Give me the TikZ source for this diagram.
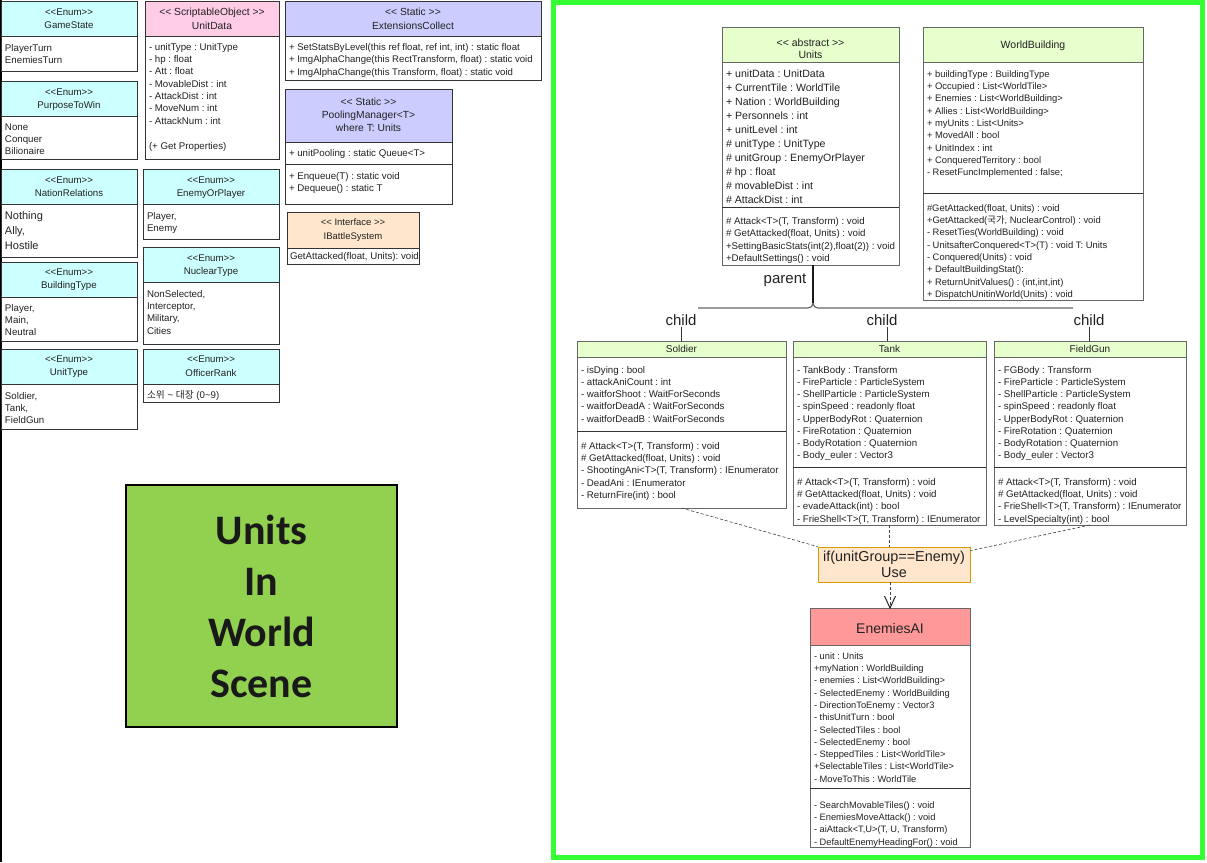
\documentclass[tikz,border=0pt]{standalone}
\usepackage{fontspec}
\setmainfont{Liberation Sans}[Ligatures=TeXOff]
\newfontfamily\krfont{Noto Sans CJK KR}
\newfontfamily\titlefont{Carlito}
\usetikzlibrary{arrows.meta}
\definecolor{enumc}{HTML}{CCFFFF}
\definecolor{pinkc}{HTML}{FFCCE6}
\definecolor{lavc}{HTML}{CCCCFF}
\definecolor{orc}{HTML}{FFE6CC}
\definecolor{orb}{HTML}{D79B00}
\definecolor{grc}{HTML}{E6FFCC}
\definecolor{redc}{HTML}{FF9999}
\definecolor{bigg}{HTML}{92D050}
\definecolor{framec}{HTML}{33FF33}
\definecolor{txtc}{HTML}{222222}
\definecolor{bordl}{HTML}{333333}
\definecolor{bordr}{HTML}{666666}
\newcommand\fs[2]{\fontsize{#1}{#2}\selectfont}
% name, x1, y1, x2, y2, header bottom, fill, border
\newcommand\umlbox[8]{%
  \node[box, draw=#8, minimum width={(#4-#2)*1pt}, minimum height={(#5-#3)*1pt}] (#1) at ({(#2+#4)/2},{(#3+#5)/2}) {};
  \node[box, draw=#8, fill=#7, minimum width={(#4-#2)*1pt}, minimum height={(#6-#3)*1pt}] (#1-h) at ({(#2+#4)/2},{(#3+#6)/2}) {};
}
% prefix, x, first baseline, dy, font, list
\newcommand\txtlines[6]{%
  \foreach \mytxt [count=\myi] in {#6} {\node[txt, font=#5, anchor=base west] (#1-\myi) at (#2, {#3+(\myi-1)*#4}) {\mytxt};}
}
\newcommand\hdr[5]{\node[txt, font=#4, anchor=base] (#1) at (#2,#3) {#5};}
\newcommand\sepline[3]{\draw[#3, line width=0.8pt] (#1.west |- 0,#2) -- (#1.east |- 0,#2);}
\tikzset{
  box/.style={rectangle, inner sep=0pt, outer sep=0pt, line width=0.8pt, fill=white},
  txt/.style={inner sep=0pt, outer sep=0pt, text=txtc},
  lbl/.style={inner sep=1pt, outer sep=0pt, font=\fs{15}{18}, text=txtc},
  dline/.style={line width=0.6pt, draw=black!75, dash pattern=on 3pt off 2pt},
}
\frenchspacing
\begin{document}
\frenchspacing
\begin{tikzpicture}[x=1pt, y=-1pt]
\useasboundingbox (0,0) rectangle (1207,862);
\fill[white] (0,0) rectangle (1207,862);
\draw[line width=1.5pt, black] (0.75,0) -- (0.75,862);

% ---------------- left column ----------------
\umlbox{gs}{1}{1}{137}{71}{36}{enumc}{bordl}
\hdr{gs-a}{69}{15.4}{\fs{9.7}{12}}{<<Enum>>}
\hdr{gs-b}{69}{28.5}{\fs{9.7}{12}}{GameState}
\txtlines{gs}{5}{51.3}{12.3}{\fs{9.7}{12}}{{PlayerTurn},{EnemiesTurn}}

\umlbox{pw}{1}{81}{137}{159}{116}{enumc}{bordl}
\hdr{pw-a}{69}{95.5}{\fs{9.7}{12}}{<<Enum>>}
\hdr{pw-b}{69}{108.5}{\fs{9.7}{12}}{PurposeToWin}
\txtlines{pw}{5}{130.3}{12.3}{\fs{9.7}{12}}{{None},{Conquer},{Bilionaire}}

\umlbox{nr}{1}{169}{137}{257}{204}{enumc}{bordl}
\hdr{nr-a}{69}{183.5}{\fs{9.7}{12}}{<<Enum>>}
\hdr{nr-b}{69}{196.5}{\fs{9.7}{12}}{NationRelations}
\txtlines{nr}{5}{219.8}{15}{\fs{11}{15}}{{Nothing},{Ally,},{Hostile}}

\umlbox{bt}{1}{262}{137}{341}{297}{enumc}{bordl}
\hdr{bt-a}{69}{275.5}{\fs{9.7}{12}}{<<Enum>>}
\hdr{bt-b}{69}{288.5}{\fs{9.7}{12}}{BuildingType}
\txtlines{bt}{5}{311.3}{12}{\fs{9.7}{12}}{{Player,},{Main,},{Neutral}}

\umlbox{ut}{1}{349}{137}{429}{384}{enumc}{bordl}
\hdr{ut-a}{69}{362.5}{\fs{9.7}{12}}{<<Enum>>}
\hdr{ut-b}{69}{375.5}{\fs{9.7}{12}}{UnitType}
\txtlines{ut}{5}{399.3}{12}{\fs{9.7}{12}}{{Soldier,},{Tank,},{FieldGun}}

% ---------------- middle column ----------------
\umlbox{ud}{145}{1}{279}{159}{36}{pinkc}{bordl}
\hdr{ud-a}{212}{15.5}{\fs{10.3}{12}}{<< ScriptableObject >>}
\hdr{ud-b}{212}{29.5}{\fs{10.3}{12}}{UnitData}
\txtlines{ud}{149}{50.3}{12.3}{\fs{9.7}{12}}{{- unitType : UnitType},{- hp : float},{- Att : float},{- MovableDist : int},{- AttackDist : int},{- MoveNum : int},{- AttackNum : int}}
\node[txt, font=\fs{9.7}{12}, anchor=base west] (ud-gp) at (149,149.3) {(+ Get Properties)};

\umlbox{ep}{143}{169}{279}{239}{204}{enumc}{bordl}
\hdr{ep-a}{211}{183.5}{\fs{9.7}{12}}{<<Enum>>}
\hdr{ep-b}{211}{196.5}{\fs{9.7}{12}}{EnemyOrPlayer}
\txtlines{ep}{147}{219.3}{12}{\fs{9.7}{12}}{{Player,},{Enemy}}

\umlbox{nt}{143}{247}{279}{344}{282}{enumc}{bordl}
\hdr{nt-a}{211}{261.5}{\fs{9.7}{12}}{<<Enum>>}
\hdr{nt-b}{211}{274.5}{\fs{9.7}{12}}{NuclearType}
\txtlines{nt}{147}{297.3}{12.3}{\fs{9.7}{12}}{{NonSelected,},{Interceptor,},{Military,},{Cities}}

\umlbox{or}{143}{349}{279}{402}{384}{enumc}{bordl}
\hdr{or-a}{211}{362.5}{\fs{9.7}{12}}{<<Enum>>}
\hdr{or-b}{211}{376}{\fs{9.7}{12}}{OfficerRank}
\node[txt, font=\fs{9.7}{12}, anchor=base west] (or-1) at (147,398.3) {{\krfont 소위} \textasciitilde{} {\krfont 대장} (0\textasciitilde 9)};

% ---------------- third column ----------------
\umlbox{ec}{285}{1}{541}{80}{36}{lavc}{bordl}
\hdr{ec-a}{413}{15.5}{\fs{10.3}{12}}{<< Static >>}
\hdr{ec-b}{413}{29.5}{\fs{10.3}{12}}{ExtensionsCollect}
\txtlines{ec}{289}{50.3}{12.5}{\fs{9.6}{12}}{{+ SetStatsByLevel(this ref float, ref int, int) : static float},{+ ImgAlphaChange(this RectTransform, float) : static void},{+ ImgAlphaChange(this Transform, float) : static void}}

\umlbox{pm}{285}{89}{452}{204}{142}{lavc}{bordl}
\hdr{pm-a}{368.5}{105.5}{\fs{10.3}{12}}{<< Static >>}
\hdr{pm-b}{368.5}{118.5}{\fs{10.3}{12}}{PoolingManager<T>}
\hdr{pm-c}{368.5}{131.5}{\fs{10.3}{12}}{where T: Units}
\node[txt, font=\fs{9.7}{12}, anchor=base west] (pm-1) at (289,156.3) {+ unitPooling : static Queue<T>};
\sepline{pm}{164}{bordl}
\txtlines{pm-m}{289}{179.3}{12.5}{\fs{9.7}{12}}{{+ Enqueue(T) : static void},{+ Dequeue() : static T}}

\umlbox{ib}{287}{212}{419}{264}{248}{orc}{bordl}
\hdr{ib-a}{353}{225.3}{\fs{9.5}{12}}{<< Interface >>}
\hdr{ib-b}{353}{239.3}{\fs{9.5}{12}}{IBattleSystem}
\node[txt, font=\fs{9.7}{12}, anchor=base west] (ib-1) at (290,259.3) {GetAttacked(float, Units): void};

% ---------------- title box ----------------
\node[draw=black, line width=2pt, fill=bigg, minimum width=271pt, minimum height=242pt, inner sep=0pt, align=center,
      font={\titlefont\bfseries\fs{42}{51}}, text=black!90] (title) at (261.5,606) {Units\\In\\World\\Scene};

% ---------------- right panel ----------------
\draw[line width=5pt, framec] (553.5,2.5) rectangle (1202.5,857.5);

\umlbox{un}{722}{27}{899}{265}{62}{grc}{bordr}
\hdr{un-a}{810.5}{46.7}{\fs{10.5}{12}}{<< abstract >>}
\hdr{un-b}{810.5}{58.7}{\fs{10.5}{12}}{Units}
\txtlines{un}{726}{77.7}{14}{\fs{10.6}{14}}{{+ unitData : UnitData},{+ CurrentTile : WorldTile},{+ Nation : WorldBuilding},{+ Personnels : int},{+ unitLevel : int},{\# unitType : UnitType},{\# unitGroup : EnemyOrPlayer},{\# hp : float},{\# movableDist : int},{\# AttackDist : int}}
\sepline{un}{207}{bordl}
\txtlines{un-m}{726}{224.3}{12.4}{\fs{9.7}{12}}{{\# Attack<T>(T, Transform) : void},{\# GetAttacked(float, Units) : void},{+SettingBasicStats(int(2),float(2)) : void},{+DefaultSettings() : void}}

\umlbox{wb}{923}{27}{1143}{300}{62}{grc}{bordr}
\hdr{wb-a}{1033}{48.7}{\fs{10.5}{12}}{WorldBuilding}
\txtlines{wb}{927}{77.2}{12.3}{\fs{9.4}{12}}{{+ buildingType : BuildingType},{+ Occupied : List<WorldTile>},{+ Enemies : List<WorldBuilding>},{+ Allies : List<WorldBuilding>},{+ myUnits : List<Units>},{+ MovedAll : bool},{+ UnitIndex : int},{+ ConqueredTerritory : bool},{- ResetFuncImplemented : false;}}
\sepline{wb}{193}{bordl}
\txtlines{wb-m}{927}{211.2}{12.3}{\fs{9.4}{12}}{{\#GetAttacked(float, Units) : void},{+GetAttacked({\krfont 국가}, NuclearControl) : void},{- ResetTies(WorldBuilding) : void},{- UnitsafterConquered<T>(T) : void T: Units},{- Conquered(Units) : void},{+ DefaultBuildingStat():},{+ ReturnUnitValues() : (int,int,int)},{+ DispatchUnitinWorld(Units) : void}}

% inheritance brace
\node[lbl] (parent) at (785,280) {parent};
\coordinate (hl) at (698,308);
\coordinate (hr) at (1073,308);
\coordinate (bm) at (813,303);
\draw[line width=1.2pt, black!60] (hl) -- (808,308) .. controls (811,308) and (813,306) .. (bm) .. controls (813,306) and (815,308) .. (818,308) -- (hr);
\draw[line width=1.4pt, black!90] (un.south -| bm) -- (bm);

\node[lbl] (ch1) at (681,320) {child};
\node[lbl] (ch2) at (882,320) {child};
\node[lbl] (ch3) at (1089,320) {child};

\umlbox{so}{577}{341}{786}{508}{357}{grc}{bordr}
\hdr{so-a}{681.5}{352.5}{\fs{10}{12}}{Soldier}
\txtlines{so}{581}{373.3}{12.2}{\fs{9.7}{12}}{{- isDying : bool},{- attackAniCount : int},{- waitforShoot : WaitForSeconds},{- waitforDeadA : WaitForSeconds},{- waitforDeadB : WaitForSeconds}}
\sepline{so}{431}{bordl}
\txtlines{so-m}{581}{449.3}{12.3}{\fs{9.7}{12}}{{\# Attack<T>(T, Transform) : void},{\# GetAttacked(float, Units) : void},{- ShootingAni<T>(T, Transform) : IEnumerator},{- DeadAni : IEnumerator},{- ReturnFire(int) : bool}}

\umlbox{tk}{793}{341}{986}{525}{357}{grc}{bordr}
\hdr{tk-a}{889.5}{352.5}{\fs{10}{12}}{Tank}
\txtlines{tk}{797}{373.3}{12.2}{\fs{9.7}{12}}{{- TankBody : Transform},{- FireParticle : ParticleSystem},{- ShellParticle : ParticleSystem},{- spinSpeed : readonly float},{- UpperBodyRot : Quaternion},{- FireRotation : Quaternion},{- BodyRotation : Quaternion},{- Body\_euler : Vector3}}
\sepline{tk}{467}{bordl}
\txtlines{tk-m}{797}{485.3}{12.3}{\fs{9.7}{12}}{{\# Attack<T>(T, Transform) : void},{\# GetAttacked(float, Units) : void},{- evadeAttack(int) : bool},{- FrieShell<T>(T, Transform) : IEnumerator}}

\umlbox{fg}{994}{341}{1186}{525}{357}{grc}{bordr}
\hdr{fg-a}{1090}{352.5}{\fs{10}{12}}{FieldGun}
\txtlines{fg}{998}{373.3}{12.2}{\fs{9.7}{12}}{{- FGBody : Transform},{- FireParticle : ParticleSystem},{- ShellParticle : ParticleSystem},{- spinSpeed : readonly float},{- UpperBodyRot : Quaternion},{- FireRotation : Quaternion},{- BodyRotation : Quaternion},{- Body\_euler : Vector3}}
\sepline{fg}{467}{bordl}
\txtlines{fg-m}{998}{485.3}{12.3}{\fs{9.7}{12}}{{\# Attack<T>(T, Transform) : void},{\# GetAttacked(float, Units) : void},{- FrieShell<T>(T, Transform) : IEnumerator},{- LevelSpecialty(int) : bool}}

\draw[line width=0.8pt, black!80] (ch1.south) -- (ch1.south |- so.north);
\draw[line width=0.8pt, black!80] ([xshift=5pt]ch2.south) -- ([xshift=5pt]ch2.south |- tk.north);
\draw[line width=0.8pt, black!80] (ch3.south) -- (ch3.south |- fg.north);

% condition
\node[draw=orb, fill=orc, line width=0.8pt, minimum width=152pt, minimum height=35pt, inner sep=0pt, align=center,
      font=\fs{14.4}{16}, text=txtc] (cd) at (894,564.5) {if(unitGroup==Enemy)\\Use};

\draw[dline] (so.south) -- (cd.north west);
\draw[dline] (tk.south) -- (tk.south |- cd.north);
\draw[dline] (fg.south) -- ([yshift=-4pt]cd.north east);

\umlbox{ai}{810}{608}{970}{847}{645}{redc}{bordr}
\hdr{ai-a}{890}{633}{\fs{14}{16}}{EnemiesAI}
\txtlines{ai}{814}{659.2}{12.3}{\fs{9.3}{12}}{{- unit : Units},{+myNation : WorldBuilding},{- enemies : List<WorldBuilding>},{- SelectedEnemy : WorldBuilding},{- DirectionToEnemy : Vector3},{- thisUnitTurn : bool},{- SelectedTiles : bool},{- SelectedEnemy : bool},{- SteppedTiles : List<WorldTile>},{+SelectableTiles : List<WorldTile>},{- MoveToThis : WorldTile}}
\sepline{ai}{788}{bordl}
\txtlines{ai-m}{814}{808.2}{12.3}{\fs{9.3}{12}}{{- SearchMovableTiles() : void},{- EnemiesMoveAttack() : void},{- aiAttack<T,U>(T, U, Transform)},{- DefaultEnemyHeadingFor() : void}}

\draw[dline] (cd.south -| ai.north) -- (ai.north);
\draw[line width=1pt, black!85] ([xshift=-5.5pt,yshift=12pt]ai.north) -- (ai.north) -- ([xshift=5.5pt,yshift=12pt]ai.north);
\end{tikzpicture}
\end{document}
